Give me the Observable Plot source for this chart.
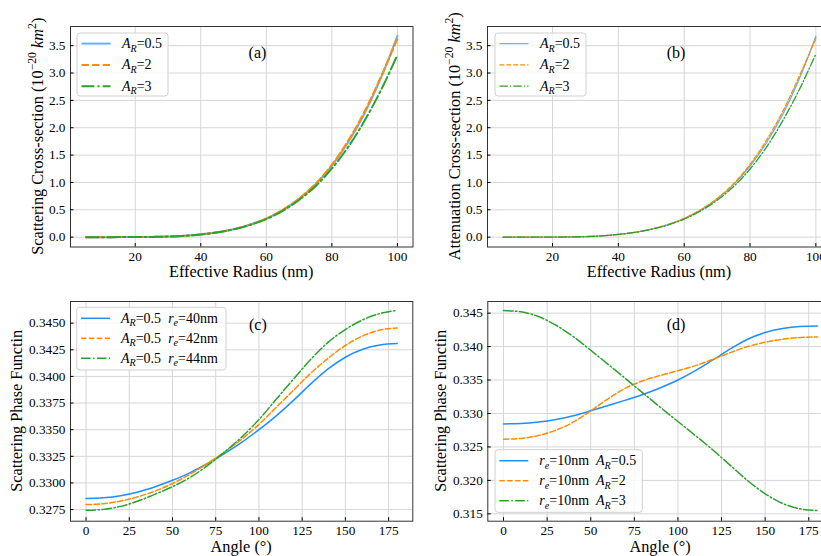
<!DOCTYPE html>
<html><head><meta charset="utf-8">
<script src="https://cdn.jsdelivr.net/npm/d3@7"></script>
<script src="https://cdn.jsdelivr.net/npm/@observablehq/plot@0.6"></script>
<style>
body{margin:0;background:#fff;}
#fig{position:relative;width:821px;height:556px;overflow:hidden;background:#fff;}
#fig svg{position:absolute;overflow:visible;background:transparent;}
#fig svg, #fig svg text, #fig svg tspan{font-family:"Liberation Serif","Times New Roman",serif !important;}
</style></head><body><div id="fig"></div>
<script>
// ---------- data ----------
const radius = [5,10,15,20,25,30,35,40,45,50,55,60,65,70,75,80,85,90,95,100];
const scatA05 = [0,0.0001,0.0005,0.0015,0.004,0.010,0.024,0.050,0.088,0.145,0.228,0.340,0.495,0.700,0.965,1.305,1.735,2.265,2.915,3.680];
const scatA2  = [0,0.0001,0.0005,0.0015,0.004,0.010,0.024,0.050,0.088,0.145,0.229,0.342,0.500,0.708,0.975,1.325,1.765,2.300,2.935,3.625];
const scatA3  = [0,0.0001,0.0005,0.0015,0.004,0.010,0.024,0.049,0.086,0.142,0.222,0.330,0.482,0.680,0.930,1.255,1.650,2.130,2.690,3.330];
const attA05  = [0,0.0001,0.0005,0.0015,0.004,0.010,0.024,0.050,0.088,0.145,0.228,0.340,0.493,0.697,0.960,1.300,1.725,2.250,2.900,3.670];
const attA2   = [0,0.0001,0.0005,0.0015,0.004,0.010,0.024,0.050,0.088,0.145,0.229,0.342,0.500,0.708,0.975,1.330,1.770,2.305,2.945,3.630];
const attA3   = [0,0.0001,0.0005,0.0015,0.004,0.010,0.024,0.049,0.086,0.142,0.222,0.330,0.480,0.675,0.925,1.245,1.645,2.135,2.700,3.350];

const angle = [0,10,20,30,40,50,60,70,80,90,100,110,120,130,140,150,160,170,180];
const phaseRe40 = [0.32853,0.32860,0.32880,0.32915,0.32965,0.33025,0.33095,0.33180,0.33275,0.33380,0.33500,0.33630,0.33775,0.33930,0.34070,0.34180,0.34255,0.34295,0.34308];
const phaseRe42 = [0.32797,0.32805,0.32830,0.32870,0.32925,0.32995,0.33080,0.33180,0.33290,0.33410,0.33550,0.33710,0.33870,0.34030,0.34170,0.34290,0.34380,0.34435,0.34455];
const phaseRe44 = [0.32744,0.32752,0.32780,0.32830,0.32895,0.32965,0.33050,0.33160,0.33290,0.33430,0.33595,0.33785,0.33975,0.34160,0.34320,0.34440,0.34530,0.34590,0.34620];
const phaseAR05 = [0.32844,0.32850,0.32872,0.32910,0.32965,0.33040,0.33120,0.33200,0.33285,0.33385,0.33500,0.33640,0.33800,0.33965,0.34110,0.34210,0.34270,0.34300,0.34308];
const phaseAR2  = [0.32616,0.32628,0.32670,0.32750,0.32870,0.33040,0.33220,0.33380,0.33490,0.33570,0.33640,0.33715,0.33810,0.33910,0.34000,0.34065,0.34110,0.34135,0.34143];
const phaseAR3  = [0.34540,0.34520,0.34450,0.34320,0.34150,0.33945,0.33735,0.33520,0.33305,0.33090,0.32880,0.32670,0.32455,0.32225,0.31995,0.31800,0.31655,0.31575,0.31549];

const radiusTicks = [20,40,60,80,100];
const crossTicks = [0,0.5,1,1.5,2,2.5,3,3.5];
const angleTicks = [0,25,50,75,100,125,150,175];
const phaseCTicks = [0.3275,0.33,0.3325,0.335,0.3375,0.34,0.3425,0.345];
const phaseDTicks = [0.315,0.32,0.325,0.33,0.335,0.34,0.345];

const colorsAB = ["#64b0ff","#ff8c00","#2ca02c"];
const colorsCD = ["#1e8fff","#ff8c00","#2ca02c"];
const FONT = '"Liberation Serif","Times New Roman",serif';
const TITLE_FS = 16.3, LEG_FS = 14;

// ---------- helpers ----------
function rich(sel, parts, fs) {
  let shift = 0;
  for (const p of parts) {
    const target = p.sup ? -0.42*fs : p.sub ? 0.25*fs : 0;
    const ts = sel.append("tspan").text(p.t).attr("dy", target - shift);
    if (p.sup || p.sub) ts.attr("font-size", 0.72*fs);
    if (p.it) ts.attr("font-style","italic");
    shift = target;
  }
}

const fig = d3.select("#fig");

function panel(c) {
  const marks = [
    Plot.gridX(c.xTicks, {stroke:"#d6d6d6", strokeOpacity:1, strokeWidth:1}),
    Plot.gridY(c.yTicks, {stroke:"#d6d6d6", strokeOpacity:1, strokeWidth:1}),
    ...c.series.map((s,i) => Plot.line(c.xs.map((x,j)=>({x, y:s.values[j]})), {
      x:"x", y:"y", stroke:c.colors[i], strokeWidth:c.lw, strokeDasharray:c.dashes[i], curve:"monotone-x"
    })),
    Plot.frame({stroke:"#333", strokeWidth:1}),
    Plot.axisX(c.xTicks, {tickSize:-3.5, tickPadding:8, label:null, fontSize:13.3}),
    Plot.axisY(c.yTicks, {tickSize:-3.5, tickPadding:8.5, label:null, tickFormat:d3.format(c.yFormat), fontSize:13.3}),
    Plot.text([c.tag], {x:c.tagX, y:c.tagY, text:d=>d, fontSize:16})
  ];
  const svg = Plot.plot({
    width:c.width, height:c.height,
    marginLeft:c.mL, marginRight:c.mR, marginTop:c.mT, marginBottom:c.mB,
    x:{domain:c.xDomain, label:null}, y:{domain:c.yDomain, label:null},
    style:{fontFamily:FONT, fontSize:"13.3px", color:"#000", background:"transparent", overflow:"visible"},
    marks
  });
  fig.node().appendChild(svg);
  const s = d3.select(svg).style("left", c.left+"px").style("top", c.top+"px").attr("font-family", FONT);
  const fx0 = c.mL, fx1 = c.width - c.mR, fy0 = c.mT, fy1 = c.height - c.mB;
  // x label
  const xl = s.append("text").attr("x",(fx0+fx1)/2).attr("y",fy1+c.xLabelOff)
    .attr("text-anchor","middle").attr("font-size",TITLE_FS).attr("fill","#000");
  rich(xl, c.xLabel, TITLE_FS);
  // y label
  const yl = s.append("text").attr("transform",`translate(${fx0 - c.yLabelOff},${(fy0+fy1)/2}) rotate(-90)`)
    .attr("text-anchor","middle").attr("font-size",TITLE_FS).attr("fill","#000");
  rich(yl, c.yLabel, TITLE_FS);
  // legend
  const L = c.legend;
  const bx = fx0 + L.dx, by = L.bottom ? fy1 - L.dy - L.h : fy0 + L.dy;
  const g = s.append("g");
  g.append("rect").attr("x",bx).attr("y",by).attr("width",L.w).attr("height",L.h).attr("rx",3)
    .attr("fill","#fff").attr("fill-opacity",0.8).attr("stroke","#d0d0d0").attr("stroke-width",1);
  c.series.forEach((sr,i) => {
    const yy = by + L.row0 + i*L.rowGap;
    g.append("line").attr("x1",bx+L.lx0).attr("x2",bx+L.lx1).attr("y1",yy).attr("y2",yy)
      .attr("stroke",c.colors[i]).attr("stroke-width",c.lw).attr("stroke-dasharray",c.dashes[i]||null);
    const t = g.append("text").attr("x",bx+L.tx).attr("y",yy+4.5).attr("text-anchor","start")
      .attr("font-size",LEG_FS).attr("fill","#000");
    rich(t, sr.label, LEG_FS);
  });
}

const AR = v => [{t:"A",it:true},{t:"R",it:true,sub:true},{t:"="+v}];
const RE = v => [{t:"r",it:true},{t:"e",it:true,sub:true},{t:"="+v}];
const sp = {t:"\u00a0\u00a0"};

const crossLegend = {dx:7, dy:7, w:91, h:63, row0:10.6, rowGap:21.3, lx0:4.5, lx1:33.5, tx:45, bottom:false};

panel({left:0, top:0, width:420, height:278, mL:70, mR:7.5, mT:26, mB:31.5,
  xDomain:[0.25,104.75], yDomain:[-0.18,3.85], xTicks:radiusTicks, yTicks:crossTicks, yFormat:".1f",
  xs:radius, colors:colorsAB, lw:2, dashes:[null,"7.4,3.2","12.8,3.2,2,3.2"],
  series:[{values:scatA05,label:AR("0.5")},{values:scatA2,label:AR("2")},{values:scatA3,label:AR("3")}],
  tag:"(a)", tagX:57.3, tagY:3.37,
  xLabel:[{t:"Effective Radius (nm)"}], xLabelOff:30.8,
  yLabel:[{t:"Scattering Cross-section (10"},{t:"\u221220",sup:true},{t:"\u00a0"},{t:"km",it:true},{t:"2",sup:true},{t:")"}], yLabelOff:27,
  legend:crossLegend});

panel({left:410, top:0, width:430, height:278, mL:77, mR:9, mT:26, mB:31.5,
  xDomain:[0.25,104.75], yDomain:[-0.18,3.85], xTicks:radiusTicks, yTicks:crossTicks, yFormat:".1f",
  xs:radius, colors:colorsAB, lw:1.3, dashes:[null,"4.8,2.1","8.3,2.1,1.3,2.1"],
  series:[{values:attA05,label:AR("0.5")},{values:attA2,label:AR("2")},{values:attA3,label:AR("3")}],
  tag:"(b)", tagX:57.5, tagY:3.37,
  xLabel:[{t:"Effective Radius (nm)"}], xLabelOff:30.8,
  yLabel:[{t:"Attenuation Cross-section (10"},{t:"\u221220",sup:true},{t:"\u00a0"},{t:"km",it:true},{t:"2",sup:true},{t:")"}], yLabelOff:27,
  legend:{...crossLegend, dx:8}});

panel({left:0, top:278, width:420, height:278, mL:70, mR:7.7, mT:23, mB:35.3,
  xDomain:[-9,189], yDomain:[0.32641,0.34703], xTicks:angleTicks, yTicks:phaseCTicks, yFormat:".4f",
  xs:angle, colors:colorsCD, lw:1.5, dashes:[null,"5.5,2.4","9.6,2.4,1.5,2.4"],
  series:[{values:phaseRe40,label:[...AR("0.5"),sp,...RE("40nm")]},{values:phaseRe42,label:[...AR("0.5"),sp,...RE("42nm")]},{values:phaseRe44,label:[...AR("0.5"),sp,...RE("44nm")]}],
  tag:"(c)", tagX:99.4, tagY:0.34485,
  xLabel:[{t:"Angle (\u00b0)"}], xLabelOff:31.3,
  yLabel:[{t:"Scattering Phase Functin"}], yLabelOff:48.5,
  legend:{dx:6.7, dy:6.3, w:149.3, h:62.7, row0:11, rowGap:20, lx0:4.3, lx1:33.3, tx:44.3, bottom:false}});

panel({left:410, top:278, width:430, height:278, mL:77.3, mR:7.3, mT:23, mB:35.3,
  xDomain:[-9,189], yDomain:[0.3139,0.34674], xTicks:angleTicks, yTicks:phaseDTicks, yFormat:".3f",
  xs:angle, colors:colorsCD, lw:1.5, dashes:[null,"5.5,2.4","9.6,2.4,1.5,2.4"],
  series:[{values:phaseAR05,label:[...RE("10nm"),sp,...AR("0.5")]},{values:phaseAR2,label:[...RE("10nm"),sp,...AR("2")]},{values:phaseAR3,label:[...RE("10nm"),sp,...AR("3")]}],
  tag:"(d)", tagX:98.9, tagY:0.34327,
  xLabel:[{t:"Angle (\u00b0)"}], xLabelOff:31.3,
  yLabel:[{t:"Scattering Phase Functin"}], yLabelOff:41.5,
  legend:{dx:7.7, dy:8.4, w:147.3, h:62.6, row0:11, rowGap:20, lx0:4.3, lx1:33.3, tx:44.3, bottom:true}});
</script></body></html>
